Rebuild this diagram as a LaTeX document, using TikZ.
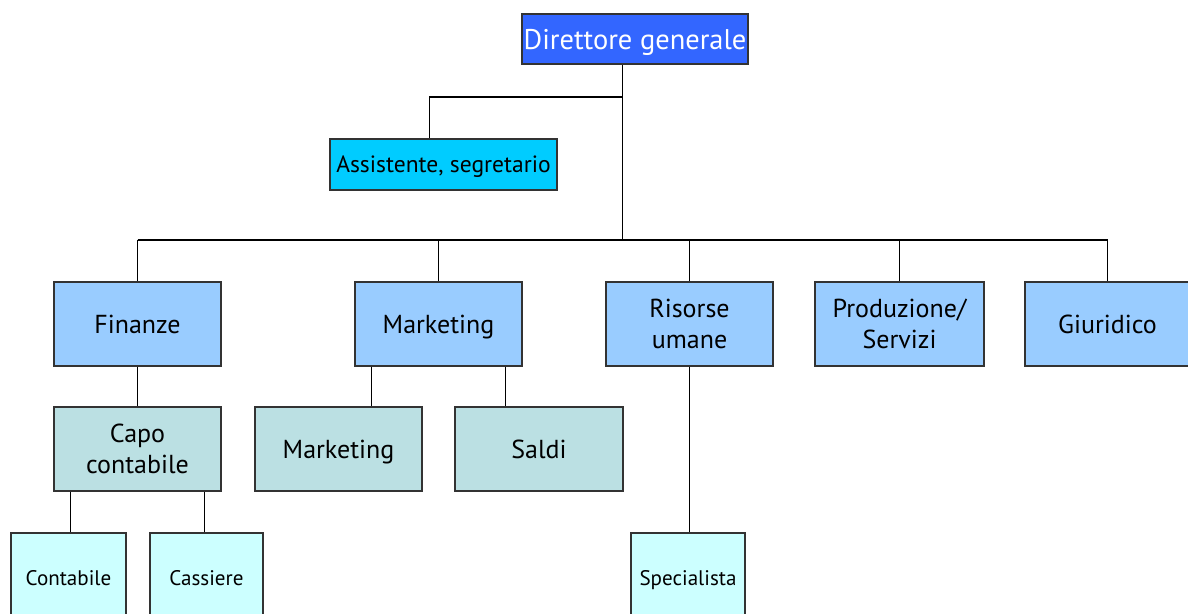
\documentclass[tikz,border=0pt]{standalone}
\usepackage{fontspec}
\setmainfont{PT Sans}
\usetikzlibrary{calc}

\definecolor{dirblue}{HTML}{3366FF}
\definecolor{asscyan}{HTML}{00CCFF}
\definecolor{repblue}{HTML}{99CCFF}
\definecolor{subteal}{HTML}{BBE0E3}
\definecolor{leafcyan}{HTML}{CCFFFF}

\begin{document}
\begin{tikzpicture}[x=0.02cm, y=-0.02cm,
    box/.style={draw=black!80, line width=0.8pt, inner sep=1pt, align=center, text depth=0pt},
    link/.style={draw=black, line width=0.6pt}]
    % --- Cadre de la page (coupe les boites du bas et de droite) ---
    \clip (0,0) rectangle (1188,614);

    % ==============================================================
    % 1. DIRECTION ET ASSISTANCE
    % ==============================================================
    \node[box, fill=dirblue, text=white, font=\fontsize{16.2}{18}\selectfont,
          minimum width=226*0.02cm, minimum height=50*0.02cm] (dir) at (635,39) {Direttore generale};
    \node[box, fill=asscyan, font=\fontsize{13.4}{15}\selectfont,
          minimum width=227*0.02cm, minimum height=51*0.02cm] (ass) at (443.5,164.5) {Assistente, segretario};

    % ==============================================================
    % 2. SERVIZI (premier niveau)
    % ==============================================================
    \tikzset{rep/.style={box, fill=repblue, font=\fontsize{14.8}{17.5}\selectfont,
                         minimum width=167*0.02cm, minimum height=84*0.02cm}}
    \node[rep] (fin) at (137.5,324) {Finanze};
    \node[rep] (mkt) at (438.5,324) {Marketing};
    \node[rep] (ris) at (689.5,324) {Risorse\\umane};
    \node[rep, minimum width=169*0.02cm] (pro) at (899.5,324) {Produzione/\\Servizi};
    \node[rep, minimum width=165*0.02cm] (giu) at (1107.5,324) {Giuridico};

    % ==============================================================
    % 3. SOTTO-SERVIZI
    % ==============================================================
    \tikzset{sub/.style={box, fill=subteal, font=\fontsize{14.8}{17.5}\selectfont,
                         minimum width=167*0.02cm, minimum height=84*0.02cm}}
    \node[sub] (capo) at (137.5,449) {Capo\\contabile};
    \node[sub] (msub) at (338.5,449) {Marketing};
    \node[sub, minimum width=168*0.02cm] (saldi) at (539,449) {Saldi};

    \tikzset{leaf/.style={box, fill=leafcyan, font=\fontsize{12}{14}\selectfont,
                          minimum width=114*0.02cm, minimum height=90*0.02cm}}
    \node[leaf, minimum width=115*0.02cm] (conta) at (68.5,578) {Contabile};
    \node[leaf, minimum width=113*0.02cm] (cass) at (206.5,578) {Cassiere};
    \node[leaf] (spec) at (688,578) {Specialista};

    % ==============================================================
    % 4. LIAISONS
    % ==============================================================
    % Tronc du directeur et barre horizontale
    \coordinate (trunk) at ($(dir.south west)!0.447!(dir.south east)$);
    \coordinate (bus)   at (trunk |- 0,240);
    \coordinate (asb)   at ($(ass.north west)!0.44!(ass.north east)$);
    \draw[link] (trunk) -- (bus);
    \draw[link] (trunk |- 0,97) -- (asb |- 0,97) -- (asb);
    \draw[link] (fin.north |- bus) -- (giu.north |- bus);
    \foreach \n in {fin, mkt, ris, pro, giu}
        \draw[link] (\n.north |- bus) -- (\n.north);

    % Finanze et Risorse umane vers leurs subordonnes
    \draw[link] (fin.south) -- (capo.north);
    \draw[link] (ris.south) -- (ris.south |- spec.north);

    % Branches a 10 % et 90 % de la largeur
    \foreach \p/\a/\b in {capo/conta/cass, mkt/msub/saldi} {
        \coordinate (\p L) at ($(\p.south west)!0.1!(\p.south east)$);
        \coordinate (\p R) at ($(\p.south west)!0.9!(\p.south east)$);
        \draw[link] (\p L) -- (\p L |- \a.north);
        \draw[link] (\p R) -- (\p R |- \b.north);
    }
\end{tikzpicture}
\end{document}
